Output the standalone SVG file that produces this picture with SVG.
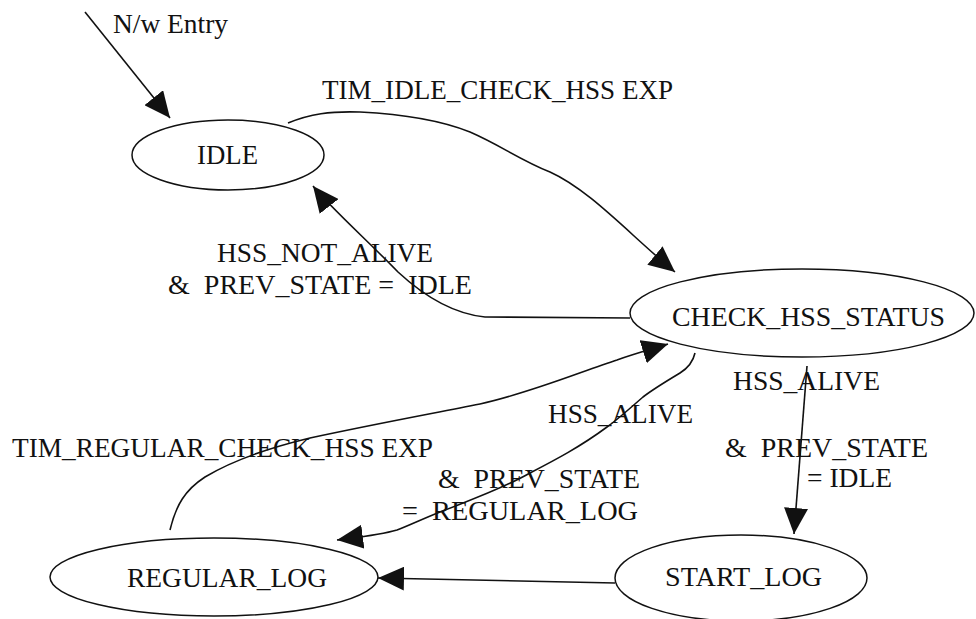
<svg xmlns="http://www.w3.org/2000/svg" width="976" height="619" viewBox="0 0 976 619">
<style>
.node ellipse{fill:none;stroke:#111;stroke-width:1.5}
text{font-family:"Liberation Serif","Times New Roman",serif;font-size:28px;fill:#111}
.edge{fill:none;stroke:#111;stroke-width:1.6}
</style>
<defs>
<marker id="ah" markerUnits="userSpaceOnUse" markerWidth="26" markerHeight="24" refX="26" refY="12" orient="auto">
<path d="M0,0 L26,12 L0,24 z" fill="#111"/>
</marker>
</defs>
<rect width="976" height="619" fill="#fff"/>
<g id="connectors">
<path class="edge" marker-end="url(#ah)" d="M85,12 L170,118"/>
<path class="edge" marker-end="url(#ah)" d="M288,123 C310,114 330,111 360,112 C400,114 440,120 470,132 C500,145 520,160 550,172 C590,190 630,235 675,272"/>
<path class="edge" marker-end="url(#ah)" d="M630,318 L485,317 C455,314 425,297 398,272 C372,245 328,205 313,186"/>
<path class="edge" marker-end="url(#ah)" d="M170,530 C176,505 185,490 205,477 C230,462 260,450 310,438 C380,423 430,414 480,404 C530,393 580,372 617,360 C637,353 652,349 668,344"/>
<path class="edge" marker-end="url(#ah)" d="M695,353 C693,362 688,368 680,373 C665,382 652,390 643,397 C628,410 617,420 607,427 C580,447 555,460 530,473 C500,490 470,500 440,512 C420,520 408,526 397,530 C380,535 360,537 337,540"/>
<path class="edge" marker-end="url(#ah)" d="M807,366 L794,534"/>
<path class="edge" marker-end="url(#ah)" d="M615,583 L378,578"/>
<text x="113" y="33" textLength="115" lengthAdjust="spacingAndGlyphs">N/w Entry</text>
<text x="322" y="99" textLength="351" lengthAdjust="spacingAndGlyphs">TIM_IDLE_CHECK_HSS EXP</text>
<text x="217" y="262" textLength="216" lengthAdjust="spacingAndGlyphs">HSS_NOT_ALIVE</text>
<text x="168" y="294" textLength="304" lengthAdjust="spacingAndGlyphs" xml:space="preserve">&amp;  PREV_STATE =  IDLE</text>
<text x="733" y="390" textLength="147" lengthAdjust="spacingAndGlyphs">HSS_ALIVE</text>
<text x="548" y="423" textLength="145" lengthAdjust="spacingAndGlyphs">HSS_ALIVE</text>
<text x="12" y="457" textLength="421" lengthAdjust="spacingAndGlyphs">TIM_REGULAR_CHECK_HSS EXP</text>
<text x="725" y="457" textLength="203" lengthAdjust="spacingAndGlyphs" xml:space="preserve">&amp;  PREV_STATE</text>
<text x="807" y="487" textLength="85" lengthAdjust="spacingAndGlyphs">= IDLE</text>
<text x="438" y="488" textLength="202" lengthAdjust="spacingAndGlyphs" xml:space="preserve">&amp;  PREV_STATE</text>
<text x="402" y="520" textLength="236" lengthAdjust="spacingAndGlyphs" xml:space="preserve">=  REGULAR_LOG</text>
</g>
<g id="idle" class="node">
<ellipse cx="228" cy="155" rx="96" ry="35"/>
<text x="197" y="164" textLength="61" lengthAdjust="spacingAndGlyphs">IDLE</text>
</g>
<g id="check_hss_status" class="node">
<ellipse cx="802" cy="313" rx="172" ry="44"/>
<text x="672" y="326" textLength="273" lengthAdjust="spacingAndGlyphs">CHECK_HSS_STATUS</text>
</g>
<g id="regular_log" class="node">
<ellipse cx="214" cy="577" rx="164" ry="39"/>
<text x="127" y="587" textLength="200" lengthAdjust="spacingAndGlyphs">REGULAR_LOG</text>
</g>
<g id="start_log" class="node">
<ellipse cx="741" cy="578" rx="126" ry="43"/>
<text x="665" y="586" textLength="157" lengthAdjust="spacingAndGlyphs">START_LOG</text>
</g>
</svg>
